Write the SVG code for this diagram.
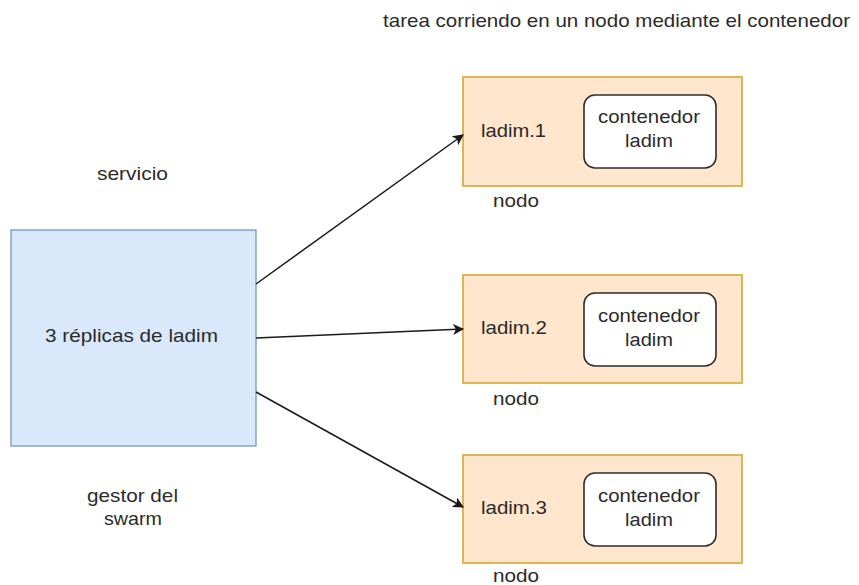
<svg xmlns="http://www.w3.org/2000/svg" width="859" height="585" viewBox="0 0 859 585">
<defs>
<style>
text{font-family:"Liberation Sans",Arial,sans-serif;font-size:19px;fill:#2b2b2b}
.svc{fill:#dae8fc;stroke:#6c8ebf;stroke-width:1.2}
.node{fill:#ffe6cc;stroke:#d9a531;stroke-width:1.6}
.cont{fill:#ffffff;stroke:#2e2e2e;stroke-width:1.6}
.edge{fill:none;stroke:#1a1a1a;stroke-width:1.5;marker-end:url(#arr)}
</style>
<marker id="arr" viewBox="0 0 10 10" refX="9" refY="5" markerWidth="11" markerHeight="11" markerUnits="userSpaceOnUse" orient="auto">
<path d="M0,0 L10,5 L0,10 L2.5,5 Z" fill="#1a1a1a"/>
</marker>
</defs>
<rect width="859" height="585" fill="#ffffff"/>
<text id="title" x="383" y="27" textLength="467" lengthAdjust="spacingAndGlyphs">tarea corriendo en un nodo mediante el contenedor</text>
<text id="lbl-servicio" x="97" y="180" textLength="71" lengthAdjust="spacingAndGlyphs">servicio</text>
<g id="lbl-gestor">
<text x="87" y="502" textLength="91" lengthAdjust="spacingAndGlyphs">gestor del</text>
<text x="104" y="525" textLength="58" lengthAdjust="spacingAndGlyphs">swarm</text>
</g>
<g id="servicio">
<rect class="svc" x="11" y="230" width="245" height="216"/>
<text x="45" y="342" textLength="173" lengthAdjust="spacingAndGlyphs">3 réplicas de ladim</text>
</g>
<g id="nodo1">
<rect class="node" x="463" y="77" width="279" height="109"/>
<text x="481" y="137" textLength="65" lengthAdjust="spacingAndGlyphs">ladim.1</text>
<rect class="cont" x="584" y="95" width="132" height="73" rx="11"/>
<text x="598" y="123" textLength="102" lengthAdjust="spacingAndGlyphs">contenedor</text>
<text x="625" y="147" textLength="48" lengthAdjust="spacingAndGlyphs">ladim</text>
<text x="493" y="207" textLength="46" lengthAdjust="spacingAndGlyphs">nodo</text>
</g>
<g id="nodo2">
<rect class="node" x="463" y="275" width="279" height="108"/>
<text x="481" y="334" textLength="66" lengthAdjust="spacingAndGlyphs">ladim.2</text>
<rect class="cont" x="584" y="293" width="132" height="73" rx="11"/>
<text x="598" y="322" textLength="102" lengthAdjust="spacingAndGlyphs">contenedor</text>
<text x="625" y="346" textLength="48" lengthAdjust="spacingAndGlyphs">ladim</text>
<text x="493" y="405" textLength="46" lengthAdjust="spacingAndGlyphs">nodo</text>
</g>
<g id="nodo3">
<rect class="node" x="463" y="455" width="279" height="108"/>
<text x="481" y="514" textLength="66" lengthAdjust="spacingAndGlyphs">ladim.3</text>
<rect class="cont" x="584" y="473" width="132" height="73" rx="11"/>
<text x="598" y="502" textLength="102" lengthAdjust="spacingAndGlyphs">contenedor</text>
<text x="625" y="526" textLength="48" lengthAdjust="spacingAndGlyphs">ladim</text>
<text x="493" y="582" textLength="46" lengthAdjust="spacingAndGlyphs">nodo</text>
</g>
<g id="connectors">
<path class="edge" d="M256,284 L463,135"/>
<path class="edge" d="M256,338 L463,329"/>
<path class="edge" d="M256,392 L463,507"/>
</g>
</svg>
